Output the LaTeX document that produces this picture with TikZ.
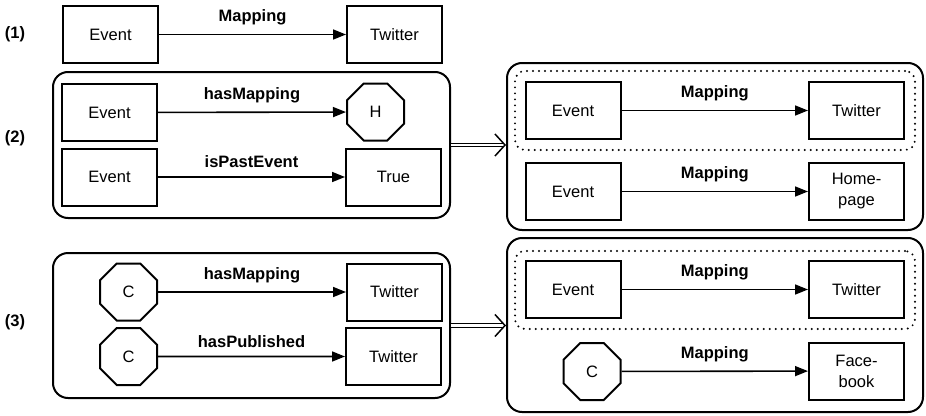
\documentclass[tikz,border=0pt]{standalone}
\usepackage{fontspec}
\setmainfont{Liberation Sans}
\usepackage{tikz}
\usetikzlibrary{arrows.meta,shapes.geometric,calc}

\begin{document}
\begin{tikzpicture}[x=1pt,y=-1pt,
    font=\fontsize{16.5}{21}\selectfont,
    entity/.style={draw, line width=2pt, minimum width=95pt, minimum height=57pt,
                   inner sep=2pt, align=center},
    octa/.style={draw, line width=2pt, regular polygon, regular polygon sides=8,
                 minimum size=61.7pt, inner sep=0pt},
    ruleframe/.style={draw, line width=2pt, rounded corners=15pt},
    subframe/.style={draw, line width=2.2pt, dash pattern=on 0pt off 6pt,
                     line cap=round, rounded corners=10pt},
    rel/.style={line width=1.6pt, -{Triangle[length=13pt,width=10pt]}},
    rellabel/.style={above=5pt, font=\fontsize{16.5}{21}\selectfont\bfseries},
    rewrite/.style={double, double distance=2.6pt, line width=1.1pt,
                    -{Straight Barb[length=10pt,width=22pt,line width=1.5pt]}},
    caselabel/.style={font=\fontsize{16.5}{21}\selectfont\bfseries}]
  \useasboundingbox (0,0) rectangle (926,415);

  % (1) plain mapping
  \node[caselabel] (case1) at (15,34) {(1)};
  \node[entity] (ev1) at (110.5,34.5) {Event};
  \node[entity] (tw1) at (394.5,34.5) {Twitter};
  \draw[rel] (ev1) -- node[rellabel] {Mapping} (tw1);

  % (2) rule body
  \node[caselabel] (case2) at (15,138) {(2)};
  \node[ruleframe, minimum width=397pt, minimum height=146pt] (body2) at (251.5,145) {};
  \node[entity] (ev2a) at (109.5,112.5) {Event};
  \node[octa] (hh2) at (375.5,112) {H};
  \node[entity] (ev2b) at (109.5,177) {Event};
  \node[entity] (true2) at (393.5,177) {True};
  \draw[rel] (ev2a) -- node[rellabel] {hasMapping} (hh2);
  \draw[rel] (ev2b) -- node[rellabel] {isPastEvent} (true2);

  % (2) rule head
  \node[ruleframe, minimum width=416pt, minimum height=167pt] (head2) at (715,146.5) {};
  \node[subframe, minimum width=400pt, minimum height=79pt] (keep2) at (715,110.5) {};
  \node[entity] (ev2c) at (573,110.5) {Event};
  \node[entity] (tw2c) at (856.5,110.5) {Twitter};
  \node[entity] (ev2d) at (573,191.5) {Event};
  \node[entity] (home2) at (856.5,191.5) {Home-\\page};
  \draw[rel] (ev2c) -- node[rellabel] {Mapping} (tw2c);
  \draw[rel] (ev2d) -- node[rellabel] {Mapping} (home2);
  \draw[rewrite] (body2.east) -- (body2.east -| head2.west);

  % (3) rule body
  \node[caselabel] (case3) at (15,322) {(3)};
  \node[ruleframe, minimum width=397pt, minimum height=145pt] (body3) at (251.5,325.5) {};
  \node[octa] (cc3a) at (128.5,292) {C};
  \node[octa] (cc3b) at (128.5,356.5) {C};
  \node[entity] (tw3a) at (394.5,292) {Twitter};
  \node[entity] (tw3b) at (393.5,356.5) {Twitter};
  \draw[rel] (cc3a) -- node[rellabel] {hasMapping} (tw3a);
  \draw[rel] (cc3b) -- node[rellabel] {hasPublished} (tw3b);

  % (3) rule head
  \node[ruleframe, minimum width=416pt, minimum height=174pt] (head3) at (715,325) {};
  \node[subframe, minimum width=400pt, minimum height=78pt] (keep3) at (715,290) {};
  \node[entity] (ev3c) at (573,289.5) {Event};
  \node[entity] (tw3c) at (856.5,289.5) {Twitter};
  \node[octa] (cc3d) at (592,371.5) {C};
  \node[entity] (face3) at (856.5,371) {Face-\\book};
  \draw[rel] (ev3c) -- node[rellabel] {Mapping} (tw3c);
  \draw[rel] (cc3d) -- node[rellabel] {Mapping} (face3);
  \draw[rewrite] (body3.east) -- (body3.east -| head3.west);
\end{tikzpicture}
\end{document}
